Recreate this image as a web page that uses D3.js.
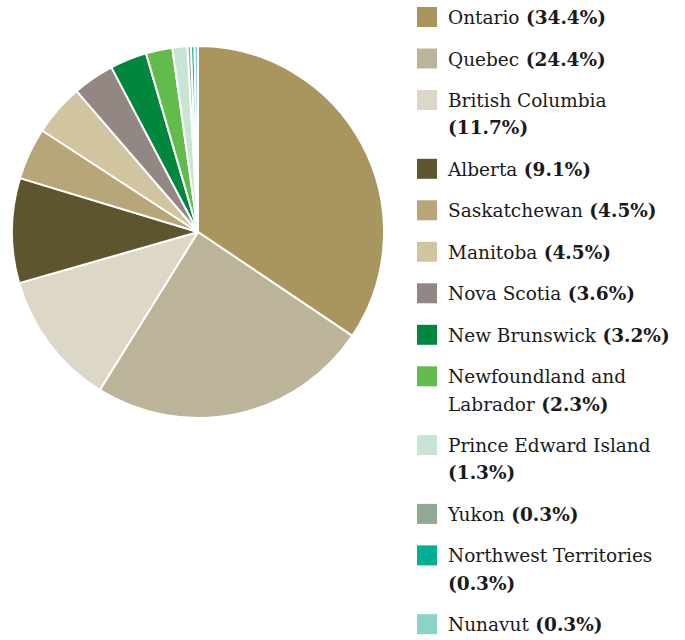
<!DOCTYPE html>
<html>
<head>
<meta charset="utf-8">
<script src="https://cdn.jsdelivr.net/npm/d3@7"></script>
<style>
  body { margin: 0; background: #fff; }
  text { font-family: "DejaVu Serif", serif; }
</style>
</head>
<body>
<div id="chart"></div>
<script>
// data: share of total by province / territory
var provinces = ["Ontario", "Quebec", "British Columbia", "Alberta", "Saskatchewan", "Manitoba",
  "Nova Scotia", "New Brunswick", "Newfoundland and Labrador", "Prince Edward Island",
  "Yukon", "Northwest Territories", "Nunavut"];
var shares = [34.4, 24.4, 11.7, 9.1, 4.5, 4.5, 3.6, 3.2, 2.3, 1.3, 0.3, 0.3, 0.3];
var colours = ["#a9965e", "#bbb498", "#dcd7c6", "#5e552e", "#b8a678", "#d1c5a0",
  "#928782", "#00873e", "#63bb4b", "#c7e5d2", "#90a995", "#00ae96", "#8bd3c7"];

var width = 685,
    height = 640,
    cx = 198,
    cy = 232,
    radius = 186;

var data = provinces.map(function(p, i) { return {name: p, value: shares[i]}; });

var color = d3.scaleOrdinal().domain(provinces).range(colours);

var svg = d3.select("#chart").append("svg")
  .attr("width", width)
  .attr("height", height);

// pie, clockwise from 12 o'clock, keep the given order
var pie = d3.pie().sort(null).value(function(d) { return d.value; });
var arc = d3.arc().innerRadius(0).outerRadius(radius);

svg.append("g")
  .attr("transform", "translate(" + cx + "," + cy + ")")
  .selectAll("path")
  .data(pie(data))
  .enter()
  .append("path")
  .attr("d", arc)
  .style("fill", function(d) { return color(d.data.name); })
  .style("stroke", "#fff")
  .style("stroke-width", 2)
  .style("stroke-linejoin", "round");

// legend
var legendX = 417,
    textX = 448,
    maxW = 222,
    fontSize = 18.5,
    lineH = 27.3,
    rowGap = 41.5;

var legend = svg.append("g");
var y = 17;

data.forEach(function(d) {
  var row = legend.append("g");
  row.append("rect")
    .attr("x", legendX)
    .attr("y", y - 10)
    .attr("width", 20)
    .attr("height", 20)
    .style("fill", color(d.name));

  // word wrap: plain name words followed by the bold percentage
  var words = d.name.split(" ").map(function(w) { return {t: w, b: false}; });
  words.push({t: "(" + d.value.toFixed(1) + "%)", b: true});

  var txt = row.append("text")
    .attr("x", textX)
    .attr("y", y + 7)
    .style("font-size", fontSize + "px")
    .style("fill", "#1a1a1a");

  var line = 0, lineWords = [];
  var measure = svg.append("text").style("font-size", fontSize + "px");

  function lineWidth(ws) {
    measure.selectAll("tspan").remove();
    ws.forEach(function(w, k) {
      measure.append("tspan").style("font-weight", w.b ? "bold" : "normal")
        .text((k ? " " : "") + w.t);
    });
    return measure.node().getComputedTextLength();
  }

  function flush(ws, ln) {
    ws.forEach(function(w, k) {
      var ts = txt.append("tspan")
        .style("font-weight", w.b ? "bold" : "normal")
        .text((k ? " " : "") + w.t);
      if (k === 0) ts.attr("x", textX).attr("y", y + 7 + ln * lineH);
    });
  }

  words.forEach(function(w) {
    var trial = lineWords.concat([w]);
    if (lineWords.length && lineWidth(trial) > maxW) {
      flush(lineWords, line);
      line++;
      lineWords = [w];
    } else {
      lineWords = trial;
    }
  });
  flush(lineWords, line);
  measure.remove();

  y += rowGap + line * lineH;
});
</script>
</body>
</html>
